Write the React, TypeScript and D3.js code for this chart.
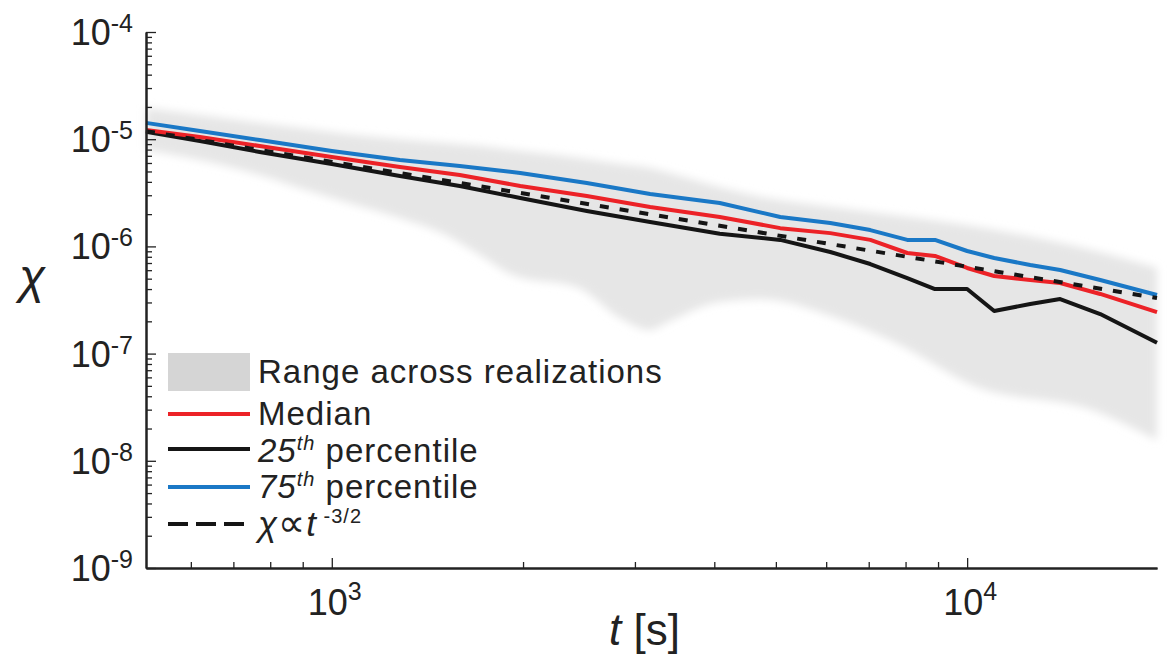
import React, { useEffect, useRef } from "react";
import * as d3 from "d3";

const W = 1171;
const H = 662;

// time samples (s) for the percentile curves
const tTimes = [510, 620, 770, 1000, 1280, 1590, 1980, 2520, 3170, 4080, 5080, 6090, 7040, 8050, 8900, 10000, 11030, 12570, 14010, 16200, 19900];
const p75 = [1.42e-5, 1.19e-5, 9.83e-6, 7.76e-6, 6.4e-6, 5.62e-6, 4.84e-6, 3.9e-6, 3.08e-6, 2.54e-6, 1.88e-6, 1.65e-6, 1.42e-6, 1.15e-6, 1.15e-6, 9.06e-7, 7.8e-7, 6.71e-7, 6.03e-7, 4.86e-7, 3.52e-7];
const median = [1.22e-5, 1.05e-5, 8.64e-6, 6.82e-6, 5.51e-6, 4.63e-6, 3.66e-6, 2.95e-6, 2.33e-6, 1.88e-6, 1.48e-6, 1.33e-6, 1.15e-6, 8.68e-7, 8.14e-7, 6.29e-7, 5.3e-7, 4.86e-7, 4.56e-7, 3.6e-7, 2.44e-7];
const p25 = [1.17e-5, 9.62e-6, 7.6e-6, 5.87e-6, 4.54e-6, 3.66e-6, 2.83e-6, 2.14e-6, 1.69e-6, 1.31e-6, 1.15e-6, 8.87e-7, 6.85e-7, 5.07e-7, 4.0e-7, 4.0e-7, 2.5e-7, 2.9e-7, 3.23e-7, 2.34e-7, 1.26e-7];

// reference power law, end points
const refT = [510, 19900];
const refChi = [1.19e-5, 3.3e-7];

// range across realizations
const bandT = [510, 620, 770, 890, 1052, 1280, 1512, 1711, 1928, 2449, 2841, 3170, 3357, 4069, 4738, 6107, 7845, 10180, 15910, 19900];
const bandHi = [1.95e-5, 1.68e-5, 1.42e-5, 1.27e-5, 1.12e-5, 1.0e-5, 9.22e-6, 8.64e-6, 7.93e-6, 6.68e-6, 5.87e-6, 5.39e-6, 4.94e-6, 3.58e-6, 2.89e-6, 2.33e-6, 1.92e-6, 1.55e-6, 9.06e-7, 6.29e-7];
const bandLo = [7.93e-6, 6.4e-6, 4.63e-6, 3.51e-6, 2.6e-6, 1.84e-6, 1.28e-6, 8.32e-7, 5.41e-7, 4.09e-7, 2.15e-7, 1.66e-7, 1.93e-7, 3.03e-7, 3.23e-7, 2.24e-7, 1.2e-7, 5.1e-8, 2.91e-8, 1.56e-8];

const xMajorExp = [3, 4];
const yMajorExp = [-4, -5, -6, -7, -8, -9];
const xMinor = [600, 700, 800, 900, 2000, 3000, 4000, 5000, 6000, 7000, 8000, 9000];

const FONT = "'Liberation Sans', Arial, Helvetica, sans-serif";
const RED = "#ec2227";
const BLUE = "#1a78c6";
const BLACK = "#151515";

const App = () => {
  const ref = useRef<SVGSVGElement>(null);

  useEffect(() => {
    const svg = d3.select(ref.current);
    svg.selectAll("*").remove();

    const left = 146, right = 1157, top = 32, bottom = 568;

    const x = d3.scaleLog().domain([510, 19900]).range([left, right]);
    const y = d3.scaleLog().domain([1e-9, 1e-4]).range([bottom, top]);

    svg.append("rect").attr("width", W).attr("height", H).attr("fill", "#fff");

    const defs = svg.append("defs");
    defs
      .append("filter")
      .attr("id", "soft")
      .attr("x", "-5%")
      .attr("y", "-10%")
      .attr("width", "110%")
      .attr("height", "120%")
      .append("feGaussianBlur")
      .attr("stdDeviation", 4);

    // band
    const bandData = bandT.map((t, i) => ({ t, lo: bandLo[i], hi: bandHi[i] }));
    const area = d3
      .area<{ t: number; lo: number; hi: number }>()
      .x((d) => x(d.t))
      .y0((d) => y(d.lo))
      .y1((d) => y(d.hi))
      .curve(d3.curveMonotoneX);
    svg
      .append("path")
      .datum(bandData)
      .attr("d", area)
      .attr("fill", "#e6e6e6")
      .attr("filter", "url(#soft)");

    const line = d3
      .line<[number, number]>()
      .x((d) => x(d[0]))
      .y((d) => y(d[1]));

    const series = [
      { v: p25, c: BLACK },
      { v: median, c: RED },
      { v: p75, c: BLUE },
    ];
    series.forEach((s) => {
      svg
        .append("path")
        .datum(tTimes.map((t, i) => [t, s.v[i]] as [number, number]))
        .attr("d", line)
        .attr("fill", "none")
        .attr("stroke", s.c)
        .attr("stroke-width", 4)
        .attr("stroke-linejoin", "round");
    });

    svg
      .append("path")
      .datum(refT.map((t, i) => [t, refChi[i]] as [number, number]))
      .attr("d", line)
      .attr("fill", "none")
      .attr("stroke", BLACK)
      .attr("stroke-width", 4)
      .attr("stroke-dasharray", "9,11");

    // axes
    const yMinor: number[] = [];
    for (let e = -9; e < -4; e++) for (let k = 2; k <= 9; k++) yMinor.push(k * Math.pow(10, e));

    const axisStyle = (g: any) => {
      g.selectAll("path").attr("stroke", "#222").attr("stroke-width", 2);
      g.selectAll("line").attr("stroke", "#222").attr("stroke-width", 1.3);
    };

    svg
      .append("g")
      .attr("transform", `translate(${left},0)`)
      .call(d3.axisLeft(y).tickValues(yMinor).tickSizeInner(-6).tickSizeOuter(0).tickFormat(() => ""))
      .call(axisStyle);
    svg
      .append("g")
      .attr("transform", `translate(${left},0)`)
      .call(
        d3
          .axisLeft(y)
          .tickValues(yMajorExp.map((e) => Math.pow(10, e)))
          .tickSizeInner(-10)
          .tickSizeOuter(0)
          .tickFormat(() => "")
      )
      .call(axisStyle);

    svg
      .append("g")
      .attr("transform", `translate(0,${bottom})`)
      .call(d3.axisBottom(x).tickValues(xMinor).tickSizeInner(-6).tickSizeOuter(0).tickFormat(() => ""))
      .call(axisStyle);
    svg
      .append("g")
      .attr("transform", `translate(0,${bottom})`)
      .call(
        d3
          .axisBottom(x)
          .tickValues(xMajorExp.map((e) => Math.pow(10, e)))
          .tickSizeInner(-10)
          .tickSizeOuter(0)
          .tickFormat(() => "")
      )
      .call(axisStyle);

    // tick labels
    yMajorExp.forEach((e) => {
      const tx = svg
        .append("text")
        .attr("x", 133)
        .attr("y", y(Math.pow(10, e)) + 13)
        .attr("text-anchor", "end")
        .attr("font-family", FONT)
        .attr("font-size", 36)
        .attr("fill", "#222");
      tx.append("tspan").text("10");
      tx.append("tspan").attr("font-size", 25).attr("dy", -13).text(`-${-e}`);
    });
    xMajorExp.forEach((e) => {
      const tx = svg
        .append("text")
        .attr("x", x(Math.pow(10, e)) + 3)
        .attr("y", 615)
        .attr("text-anchor", "middle")
        .attr("font-family", FONT)
        .attr("font-size", 36)
        .attr("fill", "#222");
      tx.append("tspan").text("10");
      tx.append("tspan").attr("font-size", 25).attr("dy", -15).text(`${e}`);
    });

    // axis titles
    svg
      .append("text")
      .attr("x", 32)
      .attr("y", 293)
      .attr("text-anchor", "middle")
      .attr("font-family", FONT)
      .attr("font-style", "italic")
      .attr("font-size", 48)
      .attr("fill", "#222")
      .text("χ");
    const xt = svg
      .append("text")
      .attr("x", 609)
      .attr("y", 645)
      .attr("font-family", FONT)
      .attr("font-size", 44)
      .attr("fill", "#222");
    xt.append("tspan").attr("font-style", "italic").text("t");
    xt.append("tspan").text(" [s]");

    // legend
    const lg = svg.append("g").attr("font-family", FONT).attr("fill", "#222");
    lg.append("rect").attr("x", 168).attr("y", 353).attr("width", 82).attr("height", 38).attr("fill", "#d5d5d5");
    const addText = (yy: number) =>
      lg.append("text").attr("x", 258).attr("y", yy).attr("font-size", 33).attr("letter-spacing", 1);
    addText(383).text("Range across realizations");

    const legendLines = [
      { yy: 414, c: RED, dash: null },
      { yy: 449, c: BLACK, dash: null },
      { yy: 487, c: BLUE, dash: null },
      { yy: 524, c: BLACK, dash: "20,8" },
    ];
    legendLines.forEach((l) => {
      lg.append("line")
        .attr("x1", 168)
        .attr("x2", 250)
        .attr("y1", l.yy)
        .attr("y2", l.yy)
        .attr("stroke", l.c)
        .attr("stroke-width", 4)
        .attr("stroke-dasharray", l.dash);
    });

    addText(425).text("Median");
    const p25t = addText(462);
    p25t.append("tspan").attr("font-style", "italic").text("25");
    p25t.append("tspan").attr("font-style", "italic").attr("font-size", 20).attr("dy", -12).text("th");
    p25t.append("tspan").attr("dy", 12).text(" percentile");
    const p75t = addText(498);
    p75t.append("tspan").attr("font-style", "italic").text("75");
    p75t.append("tspan").attr("font-style", "italic").attr("font-size", 20).attr("dy", -12).text("th");
    p75t.append("tspan").attr("dy", 12).text(" percentile");
    const chiT = addText(536).attr("font-size", 35);
    chiT.append("tspan").attr("font-style", "italic").text("χ");
    chiT.append("tspan").attr("font-family", "'DejaVu Sans', sans-serif").attr("font-size", 38).text("∝");
    chiT.append("tspan").attr("font-style", "italic").text("t");
    chiT.append("tspan").attr("font-size", 20).attr("dy", -13).text(" -3/2");
  }, []);

  return <svg ref={ref} width={W} height={H} style={{ position: "absolute", left: 0, top: 0 }} />;
};

export default App;
